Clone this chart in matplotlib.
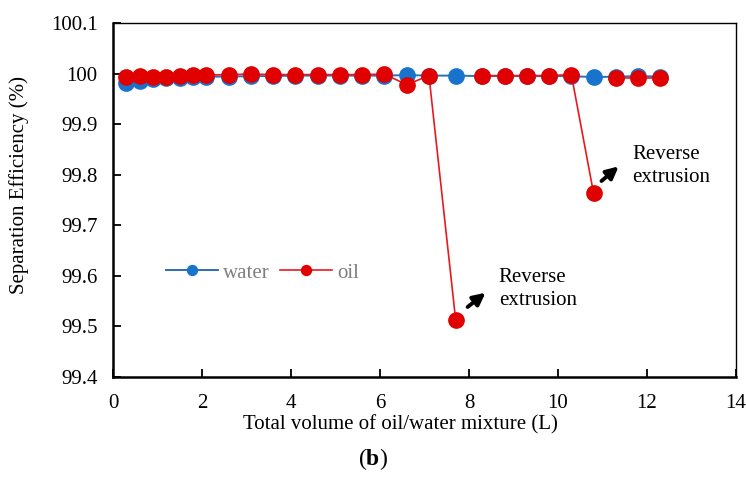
import numpy as np
import matplotlib.pyplot as plt

plt.rcParams['font.family'] = ['Liberation Serif', 'DejaVu Serif']
plt.rcParams['mathtext.fontset'] = 'custom'
plt.rcParams['mathtext.bf'] = 'Liberation Serif:bold'
plt.rcParams['mathtext.rm'] = 'Liberation Serif'

# volume of mixture passed (L)
volume = [0.3, 0.6, 0.9, 1.2, 1.5, 1.8, 2.1, 2.6, 3.1, 3.6, 4.1, 4.6, 5.1, 5.6,
          6.1, 6.6, 7.1, 7.7, 8.3, 8.8, 9.3, 9.8, 10.3, 10.8, 11.3, 11.8, 12.3]

# separation efficiency (%)
water = [99.982, 99.986, 99.990, 99.991, 99.992, 99.993, 99.994, 99.994, 99.995,
         99.995, 99.996, 99.996, 99.996, 99.996, 99.996, 99.997, 99.996, 99.996,
         99.995, 99.995, 99.995, 99.995, 99.995, 99.993, 99.994, 99.995, 99.994]
oil = [99.994, 99.995, 99.994, 99.994, 99.996, 99.997, 99.997, 99.998, 99.999,
       99.998, 99.998, 99.998, 99.998, 99.998, 99.999, 99.978, 99.996, 99.513,
       99.996, 99.996, 99.996, 99.996, 99.998, 99.763, 99.991, 99.991, 99.991]

# the oil line is broken after each reverse extrusion point
oil_breaks = [18, 24]

blue = '#1873cc'
red = '#e00000'

fig = plt.figure(figsize=(7.46, 4.95), dpi=100)
ax = fig.add_axes([0.1515, 0.2384, 0.8351, 0.7151])

ax.plot(volume, water, '-', color='#2a6fb8', lw=1.4, marker='o', ms=11,
        mfc=blue, mec=blue, label='water', zorder=2)

x = np.array(volume)
y = np.array(oil)
start = 0
for k, stop in enumerate(oil_breaks + [len(x)]):
    ax.plot(x[start:stop], y[start:stop], '-', color='#e8191e', lw=1.2,
            marker='o', ms=11, mfc=red, mec=red, zorder=3,
            label='oil' if k == 0 else None)
    start = stop

# annotations
ax.annotate('', xy=(8.42, 99.570), xytext=(7.92, 99.535),
            arrowprops=dict(arrowstyle='-|>', lw=2.8, color='black', mutation_scale=18))
ax.text(8.67, 99.574, 'Reverse\nextrusion', fontsize=15, va='center', ha='left',
        linespacing=1.3)
ax.annotate('', xy=(11.41, 99.820), xytext=(10.93, 99.784),
            arrowprops=dict(arrowstyle='-|>', lw=2.8, color='black', mutation_scale=18))
ax.text(11.66, 99.817, 'Reverse\nextrusion', fontsize=15, va='center', ha='left',
        linespacing=1.3)

ax.set_xlim(0, 14)
ax.set_ylim(99.4, 100.1)
ax.set_xticks(np.arange(0, 15, 2))
ax.set_yticks(np.arange(99.4, 100.15, 0.1))
ax.set_yticklabels(['99.4', '99.5', '99.6', '99.7', '99.8', '99.9', '100', '100.1'])
ax.tick_params(direction='in', length=6, width=1.3, labelsize=15)
ax.tick_params(axis='y', pad=11)
ax.tick_params(axis='x', pad=12)

for side in ['left', 'bottom']:
    ax.spines[side].set_linewidth(1.8)
for side in ['top', 'right']:
    ax.spines[side].set_linewidth(1.0)

ax.set_xlabel('Total volume of oil/water mixture (L)', fontsize=15)
ax.xaxis.set_label_coords(0.461, -0.108)
ax.set_ylabel('Separation Efficiency (%)', fontsize=15)
ax.yaxis.set_label_coords(-0.135, 0.542)

leg = ax.legend(loc='center left', bbox_to_anchor=(0.068, 0.294), frameon=False,
                ncol=2, fontsize=15, handlelength=2.5, handletextpad=0.25,
                columnspacing=0.5, borderpad=0, markerscale=0.65)
for t in leg.get_texts():
    t.set_color('#7f7f7f')

fig.text(0.5, 0.072, r'($\mathbf{b}$)', fontsize=17, ha='center', va='center')

fig.savefig('out.png', dpi=100)
